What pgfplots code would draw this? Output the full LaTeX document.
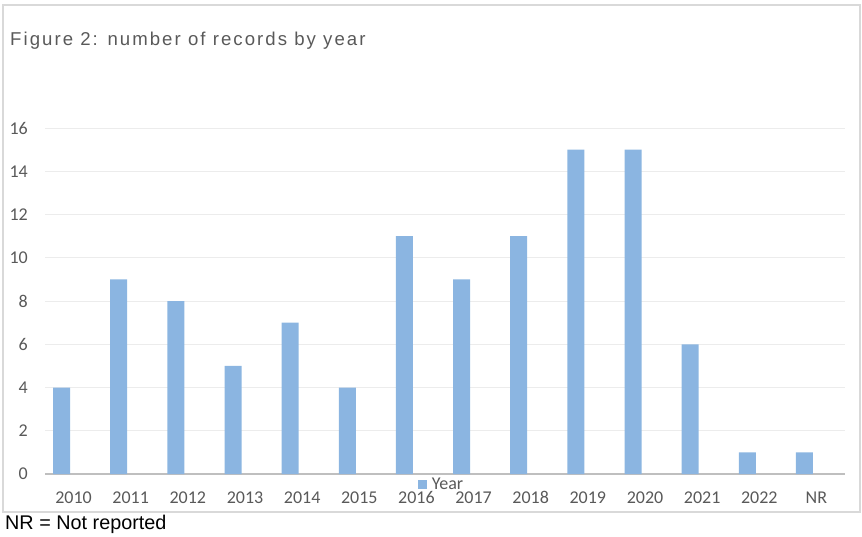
\documentclass[border=0pt]{standalone}
\usepackage{pgfplots}
\pgfplotsset{compat=1.18}
\usepackage{fontspec}
\setmainfont{Carlito}
\newfontfamily\arialf{Liberation Sans}
\newfontfamily\titlef[LetterSpace=11]{Liberation Sans}
\definecolor{barblue}{RGB}{139,181,225}
\definecolor{txtgray}{RGB}{89,89,89}
\definecolor{gridgray}{RGB}{236,236,236}
\definecolor{axisgray}{RGB}{191,191,191}
\definecolor{framegray}{RGB}{217,217,217}
\begin{document}
\begin{tikzpicture}[x=1pt,y=1pt]
\useasboundingbox (0,0) rectangle (862,536);
\draw[framegray, line width=1.2pt] (3,24) rectangle (860,531);
\node[anchor=base west, text=txtgray, font=\titlef\fontsize{18.6}{22}\selectfont, inner sep=0pt] at (10,490.3) {Figure 2: number of records by year};
\node[anchor=base west, font=\arialf\fontsize{19.8}{23}\selectfont, inner sep=0pt] at (5,6.5) {NR = Not reported};
\begin{axis}[
  at={(45pt,62pt)}, anchor=south west,
  scale only axis, width=800pt, height=346pt,
  xmin=-0.5, xmax=13.5, ymin=0, ymax=16,
  ytick={0,2,...,16},
  xtick={0,...,13},
  xticklabels={2010,2011,2012,2013,2014,2015,2016,2017,2018,2019,2020,2021,2022,NR},
  separate axis lines,
  axis x line*=bottom, axis y line*=left,
  y axis line style={draw=none},
  x axis line style={draw=axisgray, line width=1.4pt},
  major tick length=0pt,
  ymajorgrids, grid style={draw=gridgray, line width=0.9pt},
  /pgf/number format/assume math mode=true,
  tick label style={font=\fontsize{18}{20}\selectfont, text=txtgray},
  yticklabel style={anchor=east, inner sep=0pt, xshift=-17pt},
  xticklabel style={anchor=base, inner sep=0pt, yshift=-29pt},
  legend style={draw=none, fill=none, at={(0.4956,-0.029)}, anchor=center,
    font=\fontsize{18}{20}\selectfont, text=txtgray},
]
\addplot[ybar, bar width=17pt, bar shift=-12pt, fill=barblue, draw=none,
  legend image code/.code={\fill[barblue] (0pt,-4.5pt) rectangle (9pt,4.5pt); \path (12pt,0pt);}]
  coordinates {(0,4) (1,9) (2,8) (3,5) (4,7) (5,4) (6,11) (7,9) (8,11) (9,15) (10,15) (11,6) (12,1) (13,1)};
\addlegendentry{Year}
\end{axis}
\end{tikzpicture}
\end{document}
